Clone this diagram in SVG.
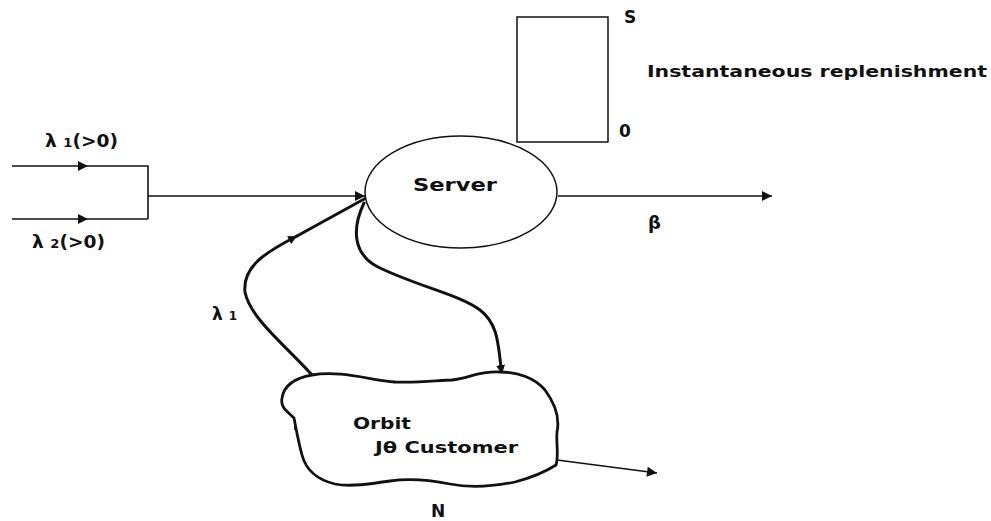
<svg xmlns="http://www.w3.org/2000/svg" width="991" height="521" viewBox="0 0 991 521">
  <style>
    .bg { fill: #ffffff; }
    .thin { fill: none; stroke: #111; stroke-width: 1.6; }
    .thick { fill: none; stroke: #111; stroke-width: 3; stroke-linecap: round; }
    .shape { fill: #ffffff; stroke: #111; stroke-width: 1.5; }
    .cloud { fill: #ffffff; stroke: #111; stroke-width: 2.8; stroke-linejoin: round; }
    .lbl { font-family: "DejaVu Sans", "Liberation Sans", sans-serif; font-weight: bold; fill: #111; }
    .sub { font-size: 12px; }
  </style>
  <defs>
    <marker id="tri" viewBox="0 0 10 10" refX="10" refY="5" markerWidth="9" markerHeight="9" markerUnits="userSpaceOnUse" orient="auto">
      <path d="M0,0 L10,5 L0,10 z" fill="#111"/>
    </marker>
    <marker id="triL" viewBox="0 0 10 10" refX="10" refY="5" markerWidth="14" markerHeight="10" markerUnits="userSpaceOnUse" orient="auto">
      <path d="M0,0 L10,5 L0,10 z" fill="#111"/>
    </marker>
  </defs>
  <rect class="bg" x="0" y="0" width="991" height="521"/>

  <g id="connectors">
    <!-- two arrival streams merging into the server -->
    <path class="thin" d="M12,166 H88" marker-end="url(#triL)"/>
    <path class="thin" d="M88,166 H148 V219"/>
    <path class="thin" d="M12,219 H88" marker-end="url(#triL)"/>
    <path class="thin" d="M88,219 H148"/>
    <path class="thin" d="M148,196 H365" marker-end="url(#triL)"/>
    <!-- departures -->
    <path class="thin" d="M558,196 H772" marker-end="url(#triL)"/>
    <!-- retrial from orbit back to server -->
    <path class="thick" d="M312,375 C285,345 250,318 245,292 C242,265 270,250 297,236" marker-end="url(#tri)"/>
    <path class="thick" d="M297,236 L366,198"/>
    <!-- server to orbit -->
    <path class="thick" d="M364,203 C352,228 352,255 380,268 C420,287 460,295 480,310 C500,325 498,350 502,374" marker-end="url(#tri)"/>
    <!-- loss from orbit -->
    <path class="thin" d="M557,460 L657,473" marker-end="url(#triL)"/>
  </g>

  <g id="inventory">
    <rect class="shape" x="517" y="17" width="91" height="125"/>
    <text class="lbl" x="624" y="23" font-size="17">S</text>
    <text class="lbl" x="619" y="137" font-size="17">0</text>
    <text class="lbl" x="647" y="77" font-size="15" textLength="340" lengthAdjust="spacingAndGlyphs">Instantaneous replenishment</text>
  </g>

  <g id="server">
    <ellipse class="shape" cx="461" cy="192" rx="96" ry="56"/>
    <text class="lbl" x="413" y="191" font-size="18" textLength="84" lengthAdjust="spacingAndGlyphs">Server</text>
  </g>

  <g id="orbit">
    <path class="cloud" d="M312,375 C340,370 370,380 395,382 C420,383 440,380 452,380 C470,378 478,371 500,372 C518,372 535,378 545,390 C556,405 560,418 557,432 C556,445 559,455 556,465 C545,472 530,478 515,482 C495,486 470,488 450,484 C430,480 410,478 390,481 C370,484 350,487 335,484 C318,480 306,470 302,455 C298,440 296,428 294,418 C288,412 280,408 282,398 C284,385 295,378 312,375 Z"/>
    <path class="thin" d="M295,430 L295,420" stroke-width="2.5"/>
    <text class="lbl" x="353" y="429" font-size="15" textLength="58" lengthAdjust="spacingAndGlyphs">Orbit</text>
    <text class="lbl" x="375" y="453" font-size="15" textLength="143" lengthAdjust="spacingAndGlyphs">Jθ Customer</text>
    <text class="lbl" x="431" y="517" font-size="17">N</text>
  </g>

  <g id="labels">
    <text class="lbl" x="45" y="147" font-size="17" textLength="73" lengthAdjust="spacingAndGlyphs">λ <tspan class="sub">1</tspan>(&gt;0)</text>
    <text class="lbl" x="32" y="248" font-size="17" textLength="73" lengthAdjust="spacingAndGlyphs">λ <tspan class="sub">2</tspan>(&gt;0)</text>
    <text class="lbl" x="212" y="320" font-size="17">λ <tspan class="sub">1</tspan></text>
    <text class="lbl" x="648" y="229" font-size="18">β</text>
  </g>
</svg>
